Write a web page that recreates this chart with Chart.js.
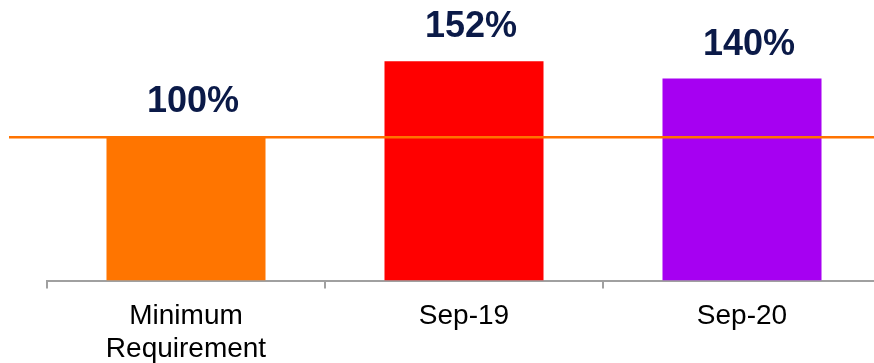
<!DOCTYPE html>
<html>
<head>
<meta charset="utf-8">
<script src="https://cdn.jsdelivr.net/npm/chart.js@4"></script>
<style>
    html, body { margin: 0; padding: 0; background: #fff; overflow: hidden; }
    #wrap { width: 890px; height: 379px; }
</style>
</head>
<body>
<div id="wrap"><canvas id="chart" width="890" height="379"></canvas></div>
<script>
var categories = [["Minimum", "Requirement"], "Sep-19", "Sep-20"];
var ratioValues = [100, 152, 140];
var barColors = ["#FF7500", "#FF0000", "#A600F2"];
var minRequirement = 100;

// value labels above bars + the minimum requirement line
var overlayPlugin = {
    id: "overlay",
    afterDatasetsDraw: function(chart) {
        var ctx = chart.ctx;
        var yScale = chart.scales.y;
        var meta = chart.getDatasetMeta(0);

        var lineY = yScale.getPixelForValue(minRequirement) + 1;
        ctx.save();
        ctx.strokeStyle = "#FF7300";
        ctx.lineWidth = 2.5;
        ctx.beginPath();
        ctx.moveTo(9, lineY);
        ctx.lineTo(chart.width, lineY);
        ctx.stroke();

        ctx.fillStyle = "#0B1A48";
        ctx.font = "bold 36px 'Liberation Sans', Arial, sans-serif";
        ctx.textAlign = "center";
        ctx.textBaseline = "alphabetic";
        meta.data.forEach(function(bar, i) {
            ctx.fillText(ratioValues[i] + "%", bar.x + 7, bar.y - 24);
        });
        ctx.restore();
    }
};

new Chart(document.getElementById("chart"), {
    type: "bar",
    data: {
        labels: categories,
        datasets: [{
            data: ratioValues,
            backgroundColor: barColors,
            borderWidth: 0,
            barPercentage: 0.572,
            categoryPercentage: 1
        }]
    },
    options: {
        responsive: false,
        animation: false,
        layout: { padding: { left: 47, right: 9, top: 0, bottom: 2 } },
        plugins: {
            legend: { display: false },
            tooltip: { enabled: false }
        },
        scales: {
            x: {
                offset: true,
                grid: {
                    offset: true,
                    drawOnChartArea: false,
                    drawTicks: true,
                    tickLength: 8,
                    color: "#A0A0A0",
                    lineWidth: 2
                },
                border: { display: true, color: "#A0A0A0", width: 2 },
                ticks: {
                    color: "#000",
                    padding: 12,
                    maxRotation: 0,
                    font: { family: "'Liberation Sans', Arial, sans-serif", size: 28, lineHeight: 1.15 }
                }
            },
            y: {
                display: false,
                min: 0,
                max: 194.4
            }
        }
    },
    plugins: [overlayPlugin]
});
</script>
</body>
</html>
